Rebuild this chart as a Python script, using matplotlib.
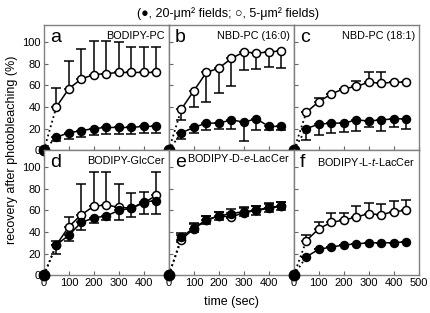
import matplotlib
matplotlib.use('Agg')
import matplotlib.pyplot as plt

plt.rcParams['font.family'] = ['Liberation Sans', 'DejaVu Sans']
plt.rcParams['mathtext.fontset'] = 'custom'
plt.rcParams['mathtext.rm'] = 'Liberation Sans'
plt.rcParams['mathtext.it'] = 'Liberation Sans:italic'

time = [50, 100, 150, 200, 250, 300, 350, 400, 450]

names = ['BODIPY-PC', 'NBD-PC (16:0)', 'NBD-PC (18:1)',
         'BODIPY-GlcCer', r'BODIPY-D-$\it{e}$-LacCer', r'BODIPY-L-$\it{t}$-LacCer']
letters = ['a', 'b', 'c', 'd', 'e', 'f']

# open circles (5-um2 fields): mean and error bar (positive = up, negative = down)
open_mean = [
    [40, 57, 66, 70, 71, 72, 72, 72, 72],
    [38, 55, 72, 76, 85, 91, 90, 91, 92],
    [35, 45, 52, 57, 59, 63, 62, 63, 63],
    [28, 45, 56, 64, 65, 63, 62, 67, 74],
    [33, 43, 51, 55, 54, 58, 60, 62, 64],
    [32, 43, 49, 51, 54, 57, 56, 59, 60],
]
open_err = [
    [18, 26, 28, 31, 30, 28, 24, 24, 24],
    [-10, -15, -27, -23, -26, -17, -15, -14, -16],
    [0, 3, 0, 0, 5, 9, 10, 0, 0],
    [4, 9, 29, 32, 31, 22, 14, 10, 22],
    [4, 4, 4, 4, 4, 4, 4, 4, 4],
    [5, 6, 9, 7, 10, 10, 10, 10, 10],
]
# filled circles (20-um2 fields): mean and lower error bar
fill_mean = [
    [12, 16, 18, 20, 21, 21, 21, 22, 22],
    [16, 21, 25, 25, 28, 26, 29, 22, 22],
    [20, 24, 25, 25, 28, 27, 28, 29, 29],
    [28, 37, 49, 53, 55, 60, 62, 68, 69],
    [35, 44, 51, 55, 57, 59, 60, 63, 64],
    [17, 24, 26, 28, 29, 30, 30, 30, 31],
]
fill_err = [
    [4, 6, 6, 6, 6, 6, 6, 6, 6],
    [6, 5, 6, 5, 8, 18, 10, 3, 3],
    [11, 10, 9, 8, 10, 6, 10, 8, 9],
    [8, 5, 7, 5, 4, 9, 8, 11, 12],
    [4, 4, 4, 4, 4, 4, 4, 4, 4],
    [0, 0, 0, 0, 0, 0, 0, 0, 0],
]

fig, axes = plt.subplots(2, 3, figsize=(4.3, 3.13), dpi=100)
fig.subplots_adjust(left=0.102, right=0.974, top=0.92, bottom=0.121, wspace=0, hspace=0)

for i, ax in enumerate(axes.flat):
    om, oe = open_mean[i], open_err[i]
    fm, fe = fill_mean[i], fill_err[i]
    up = [max(e, 0) for e in oe]
    dn = [max(-e, 0) for e in oe]
    eb = dict(fmt='none', ecolor='k', elinewidth=1.1, capsize=3.5, capthick=1.1, zorder=2)
    ax.errorbar(time, om, yerr=[dn, up], **eb)
    if i == 4:
        ax.errorbar(time, fm, yerr=fe, **eb)
    else:
        ax.errorbar(time, fm, yerr=[fe, [0] * 9], **eb)
    ax.plot([0, time[0]], [0, om[0]], 'k:', lw=1.3, zorder=2)
    ax.plot([0, time[0]], [0, fm[0]], 'k:', lw=1.3, zorder=2)
    ax.plot(time, om, 'k-', lw=1.1, marker='o', mfc='white', mec='k', ms=5.8, mew=1.1, zorder=3)
    ax.plot(time, fm, 'k-', lw=1.1, marker='o', mfc='k', mec='k', ms=5.8, zorder=4)
    ax.plot([0], [0], 'ko', ms=7.5, clip_on=False, zorder=5)

    ax.text(0.05, 0.97, letters[i], transform=ax.transAxes, fontsize=14, va='top', ha='left')
    ny = 0.985 if i == 4 else 0.955
    ax.text(0.97, ny, names[i], transform=ax.transAxes, fontsize=7.8, va='top', ha='right')

    ax.set_xlim(0, 500)
    ax.set_ylim(0, 116)
    ax.set_xticks([0, 100, 200, 300, 400, 500])
    ax.set_yticks([0, 20, 40, 60, 80, 100])
    ax.tick_params(direction='in', length=3, labelsize=8, color='0.4', pad=2)
    for s in ax.spines.values():
        s.set_color('0.5')
        s.set_linewidth(1.0)

for r in range(2):
    for c in range(3):
        ax = axes[r, c]
        if c > 0:
            ax.set_yticklabels([])
        if r == 0:
            ax.set_xticklabels([])
        elif c < 2:
            ax.set_xticklabels(['0', '100', '200', '300', '400', ''])

fig.text(0.53, 0.957, '(\u25cf, 20-\u03bcm\u00b2 fields; \u25cb, 5-\u03bcm\u00b2 fields)', ha='center', va='center', fontsize=9)
fig.text(0.028, 0.52, 'recovery after photobleaching (%)', rotation=90, ha='center', va='center', fontsize=9)
fig.text(0.538, 0.035, 'time (sec)', ha='center', va='center', fontsize=9)

fig.savefig('out.png', dpi=100)
